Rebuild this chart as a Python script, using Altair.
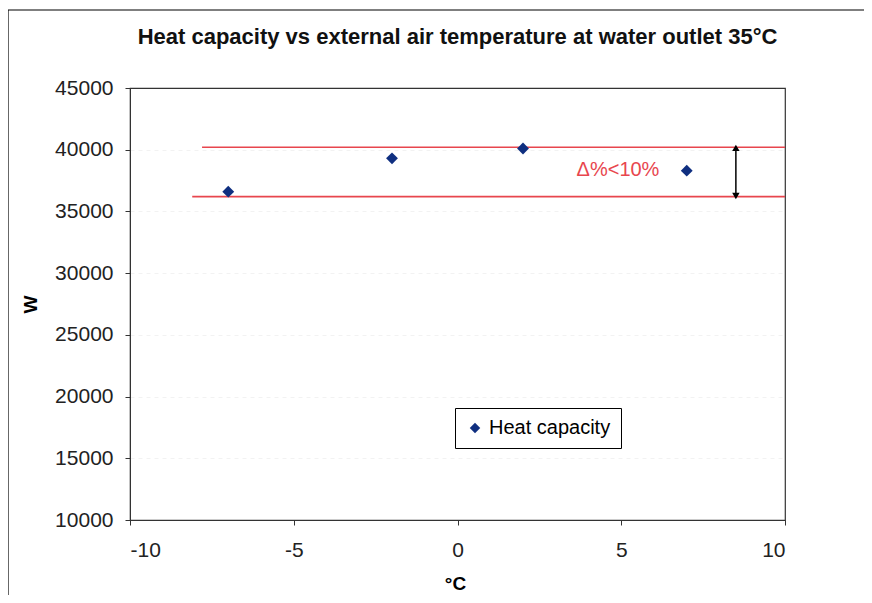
import altair as alt
import pandas as pd

# ---- data ----
temps = [-7, -2, 2, 7]
capacity = [36600, 39300, 40100, 38300]
series_name = "Heat capacity"

upper_x = [-7.8, 10]
upper_y = [40200, 40200]
lower_x = [-8.1, 10]
lower_y = [36200, 36200]

arrow_x = 8.5
arrow_low = 36250
arrow_high = 40150

note_text = "Δ%<10%"
note_x = 4.9
note_y = 38350

x_ticks = [-10, -5, 0, 5, 10]
y_ticks = [10000, 15000, 20000, 25000, 30000, 35000, 40000, 45000]

FONT = "Liberation Sans"
RED = "#e8464e"
NAVY = "#0f2f80"

pts = pd.DataFrame({"t": temps, "w": capacity, "series": [series_name] * len(temps)})
lines = pd.DataFrame({
    "t": upper_x + lower_x,
    "w": upper_y + lower_y,
    "band": ["upper", "upper", "lower", "lower"],
})
arrow = pd.DataFrame({"t": [arrow_x], "lo": [arrow_low], "hi": [arrow_high]})
heads = pd.DataFrame({
    "t": [arrow_x, arrow_x],
    "w": [arrow_high, arrow_low],
    "shape": ["triangle-up", "triangle-down"],
    "dy": [4, -4],
})
note = pd.DataFrame({"t": [note_x], "w": [note_y], "label": [note_text]})

xscale = alt.Scale(domain=[-10, 10], nice=False, zero=False)
yscale = alt.Scale(domain=[10000, 45000], nice=False, zero=False)

x_axis = alt.Axis(values=x_ticks, title="°C", grid=False, labelPadding=14,
                  labelExpr="'' + datum.value",
                  titleX=325, titleY=63, titleBaseline="middle", titleAlign="center")
y_axis = alt.Axis(values=y_ticks, title="W", grid=True, labelPadding=12,
                  labelExpr="'' + datum.value",
                  gridOpacity={"condition": {"test": "datum.value >= 45000 || datum.value <= 10000",
                                             "value": 0}, "value": 1},
                  titleX=-100, titleY=216, titleBaseline="middle", titleAlign="center")

one = alt.Data(values=[{}])
# outer chart frame (top, left, bottom edges; right edge lies beyond the picture)
frame_top = alt.Chart(one).mark_rule(color="black", strokeWidth=1.2).encode(
    x=alt.value(-122), x2=alt.value(734), y=alt.value(-78))
frame_left = alt.Chart(one).mark_rule(color="black", strokeWidth=1.2).encode(
    x=alt.value(-122), y=alt.value(-78), y2=alt.value(510))
frame_bottom = alt.Chart(one).mark_rule(color="black", strokeWidth=1.2).encode(
    x=alt.value(-122), x2=alt.value(734), y=alt.value(510))

band_lines = alt.Chart(lines).mark_line(color=RED, strokeWidth=1.6).encode(
    x=alt.X("t:Q", scale=xscale, axis=x_axis),
    y=alt.Y("w:Q", scale=yscale, axis=y_axis),
    detail="band:N",
)

points = alt.Chart(pts).mark_point(shape="diamond", filled=True, size=140, opacity=1).encode(
    x=alt.X("t:Q", scale=xscale),
    y=alt.Y("w:Q", scale=yscale),
    color=alt.Color("series:N", scale=alt.Scale(range=[NAVY]),
                    legend=alt.Legend(orient="none", legendX=325, legendY=320, title=None,
                                      strokeColor="black", fillColor="white", padding=10,
                                      symbolType="diamond", symbolSize=110,
                                      labelFontSize=20, labelFont=FONT, labelColor="black")),
)

arrow_rule = alt.Chart(arrow).mark_rule(color="black", strokeWidth=1.5).encode(
    x=alt.X("t:Q", scale=xscale),
    y=alt.Y("lo:Q", scale=yscale),
    y2="hi:Q",
)

arrow_heads = alt.Chart(heads).mark_point(filled=True, size=55, color="black", opacity=1).encode(
    x=alt.X("t:Q", scale=xscale),
    y=alt.Y("w:Q", scale=yscale),
    shape=alt.Shape("shape:N", scale=None, legend=None),
    yOffset=alt.YOffset("dy:Q", scale=None),
)

note_text_mark = alt.Chart(note).mark_text(color=RED, fontSize=20, font=FONT).encode(
    x=alt.X("t:Q", scale=xscale),
    y=alt.Y("w:Q", scale=yscale),
    text="label:N",
)

chart = alt.layer(
    frame_top, frame_left, frame_bottom,
    band_lines, points, arrow_rule, arrow_heads, note_text_mark
).properties(
    width=655,
    height=432,
    padding={"left": 122, "top": 80, "right": 79, "bottom": 75},
    autosize=alt.AutoSizeParams(type="none"),
    title=alt.Title("Heat capacity vs external air temperature at water outlet 35°C",
                    fontSize=22, fontWeight="bold", font=FONT, color="#111111",
                    anchor="middle", frame="group", offset=-40),
).configure_view(
    stroke="#333333", strokeWidth=1.2
).configure_axis(
    labelFont=FONT, labelFontSize=21, labelColor="#222222",
    titleFont=FONT, titleFontSize=19, titleFontWeight="bold", titleColor="black",
    domainColor="#333333", tickColor="#333333", tickSize=5,
    gridColor="#f2f2f2", gridDash=[4, 4],
)

chart.save("out.html", embed_options={"renderer": "svg", "actions": False})
